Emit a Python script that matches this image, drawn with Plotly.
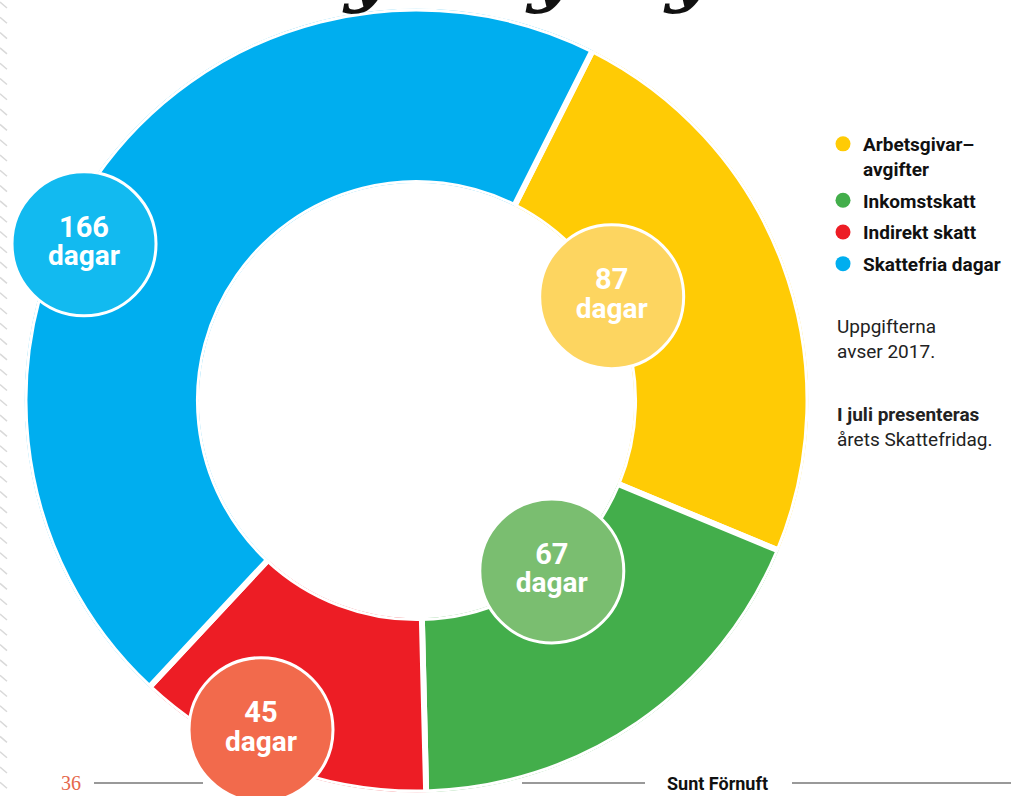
import plotly.graph_objects as go

# ---- data ----
categories = ["Arbetsgivar–<br>avgifter", "Inkomstskatt", "Indirekt skatt", "Skattefria dagar"]
days = [87, 67, 45, 166]
unit_label = "dagar"
slice_colors = ["#FFCB05", "#43AE4B", "#ED1D25", "#00AEEF"]
badge_colors = ["#FDD560", "#7ABE70", "#F26A4C", "#12BAF0"]
# badge placement (style): radial position in ring (0 inner edge .. 1 outer edge), angle shift in degrees
badge_radial = [0.02, 0.0, 0.84, 0.86]
badge_shift = [-7.6, -4.0, 4.5, -9.6]
note1 = "Uppgifterna<br>avser 2017."
note2 = "<b>I juli presenteras</b><br>årets Skattefridag."
page_number = "36"
magazine = "Sunt Förnuft"

# ---- geometry (style) ----
W, H = 1011, 796
CX, CY, R = 416.5, 400.5, 392
HOLE = 0.555
START = 26.7

total = sum(days)
widths = [d / total * 360 for d in days]
mids = []
acc = START
for w in widths:
    mids.append(acc + w / 2)
    acc += w
badge_theta = [m + s for m, s in zip(mids, badge_shift)]

fig = go.Figure()
fig.add_trace(go.Barpolar(
    r=[1] * len(days), theta=mids, width=widths,
    marker=dict(color=slice_colors, line=dict(color="white", width=6)),
    showlegend=False, hoverinfo="skip"))
fig.add_trace(go.Scatterpolar(
    r=badge_radial, theta=badge_theta, mode="markers",
    marker=dict(size=144, color=badge_colors, line=dict(color="white", width=3), opacity=1),
    cliponaxis=False, showlegend=False, hoverinfo="skip"))
fig.add_trace(go.Scatterpolar(
    r=badge_radial, theta=badge_theta, mode="text",
    text=[str(d) for d in days], textposition="top center",
    textfont=dict(family="Roboto", size=29, color="white", weight="bold"),
    cliponaxis=False, showlegend=False, hoverinfo="skip"))
fig.add_trace(go.Scatterpolar(
    r=badge_radial, theta=badge_theta, mode="text",
    text=[unit_label] * len(days), textposition="bottom center",
    textfont=dict(family="Roboto", size=28, color="white", weight="bold"),
    cliponaxis=False, showlegend=False, hoverinfo="skip"))

for i, (name, col) in enumerate(zip(categories, slice_colors)):
    fig.add_trace(go.Scatterpolar(
        r=[None], theta=[None], mode="markers", name=name,
        marker=dict(size=15, color=col), legendgroup=f"g{i}", showlegend=True))

# decorations
shapes = []
segs = []
y = 2.0
while y < H:
    segs.append(f"M0,{1 - y / H:.5f} L{7 / W:.5f},{1 - (y + 6) / H:.5f}")
    y += 15.3
shapes.append(dict(type="path", xref="paper", yref="paper", path=" ".join(segs),
                   line=dict(color="#D9D9D9", width=1.5)))
ly = 1 - 783 / H
for x0, x1 in [(94, 203), (522, 645), (792, 1011)]:
    shapes.append(dict(type="line", xref="paper", yref="paper", x0=x0 / W, x1=x1 / W,
                       y0=ly, y1=ly, line=dict(color="#777777", width=1.5)))

annotations = [
    dict(text=note1, x=836 / W, y=1 - 338.5 / H, xref="paper", yref="paper",
         xanchor="left", yanchor="middle", align="left", showarrow=False, borderpad=0,
         font=dict(family="Roboto", size=19, color="#222222")),
    dict(text=note2, x=836 / W, y=1 - 427 / H, xref="paper", yref="paper",
         xanchor="left", yanchor="middle", align="left", showarrow=False, borderpad=0,
         font=dict(family="Roboto", size=19, color="#222222")),
    dict(text=page_number, x=71 / W, y=ly, xref="paper", yref="paper",
         xanchor="center", yanchor="middle", showarrow=False, borderpad=0,
         font=dict(family="Liberation Serif", size=20, color="#E5674B")),
    dict(text="<b>" + magazine + "</b>", x=717.5 / W, y=ly, xref="paper", yref="paper",
         xanchor="center", yanchor="middle", showarrow=False, borderpad=0,
         font=dict(family="Roboto", size=18, color="#111111")),
]
for gx in [369, 552, 690]:
    annotations.append(dict(text="y", x=gx / W, y=1 + 32.5 / H, xref="paper", yref="paper",
                            xanchor="center", yanchor="middle", showarrow=False, borderpad=0,
                            font=dict(family="DejaVu Serif", size=80, color="#111111",
                                      style="italic", weight="bold")))

fig.update_layout(
    width=W, height=H, margin=dict(l=0, r=0, t=0, b=0),
    paper_bgcolor="white", plot_bgcolor="white",
    polar=dict(
        domain=dict(x=[(CX - R) / W, (CX + R) / W], y=[1 - (CY + R) / H, 1 - (CY - R) / H]),
        hole=HOLE, bgcolor="rgba(0,0,0,0)",
        radialaxis=dict(range=[0, 1], visible=False),
        angularaxis=dict(rotation=90, direction="clockwise", visible=False),
    ),
    showlegend=True,
    legend=dict(x=823 / W, y=1 - 125 / H, xanchor="left", yanchor="top",
                font=dict(family="Roboto", size=19, color="#111111", weight="bold"),
                tracegroupgap=4, valign="top", itemwidth=30, bgcolor="rgba(0,0,0,0)",
                itemclick=False, itemdoubleclick=False),
    shapes=shapes, annotations=annotations,
)

fig.write_html("out.html", config={"displayModeBar": False},
               post_script="document.body.style.margin='0px';document.body.style.overflow='hidden';")
